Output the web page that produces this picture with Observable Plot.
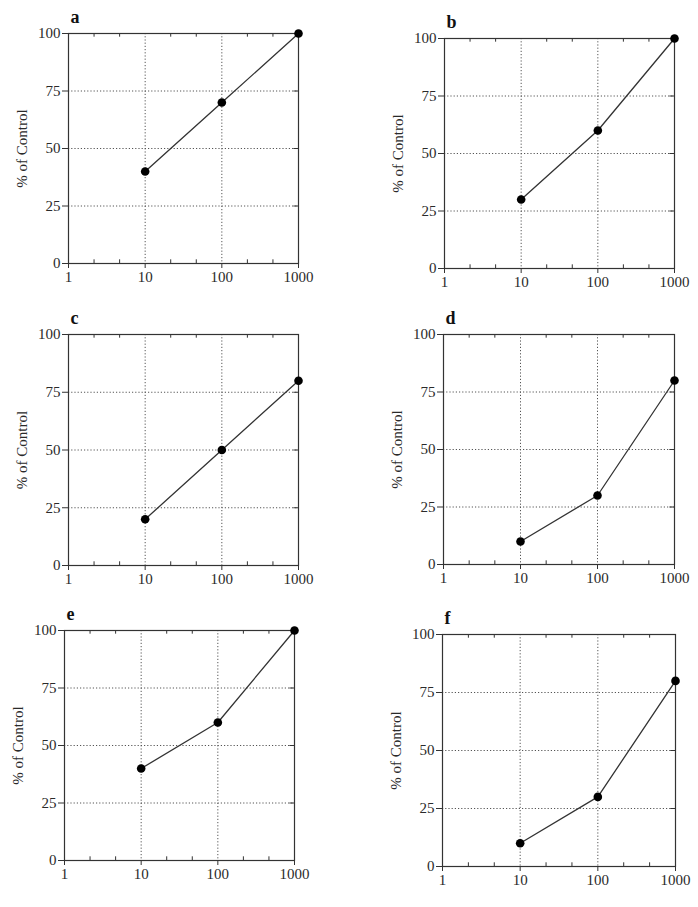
<!DOCTYPE html>
<html>
<head>
<meta charset="utf-8">
<script src="https://cdn.jsdelivr.net/npm/d3@7"></script>
<script src="https://cdn.jsdelivr.net/npm/@observablehq/plot@0.6"></script>
<style>
  html, body { margin: 0; padding: 0; background: #fff; }
  #wrap { position: relative; width: 698px; height: 907px; overflow: hidden; }
  #wrap svg { position: absolute; }
  #wrap svg text { font-family: "Liberation Serif", "Times New Roman", serif !important; }
</style>
</head>
<body>
<div id="wrap"></div>
<script>
// ---- data ----
const concentrations = [10, 100, 1000];
const panelLetters = ["a", "b", "c", "d", "e", "f"];
const valuesA = [40, 70, 100];
const valuesB = [30, 60, 100];
const valuesC = [20, 50, 80];
const valuesD = [10, 30, 80];
const valuesE = [40, 60, 100];
const valuesF = [10, 30, 80];
const seriesValues = [valuesA, valuesB, valuesC, valuesD, valuesE, valuesF];
const xTicks = [1, 10, 100, 1000];
const xTickLabels = ["1", "10", "100", "1000"];
const xMinorTicks = [2.154, 4.642, 21.54, 46.42, 215.4, 464.2];
const yTicks = [0, 25, 50, 75, 100];
const yGrid = [25, 50, 75];
const xGrid = [10, 100];
const yLabel = "% of Control";

// ---- layout (frame boxes in page pixels) ----
const frames = [
  {x0: 68, x1: 298, y0: 33, y1: 263},
  {x0: 444, x1: 674, y0: 38, y1: 268},
  {x0: 68, x1: 298, y0: 334, y1: 565},
  {x0: 443, x1: 674, y0: 334, y1: 564},
  {x0: 64, x1: 294, y0: 630, y1: 860},
  {x0: 442, x1: 675, y0: 634, y1: 866}
];

const wrap = document.getElementById("wrap");
const ML = 70, MR = 40, MT = 40, MB = 40;
const ink = "#2a2a2a";
const serif = "Liberation Serif";

frames.forEach((f, i) => {
  const data = concentrations.map((c, j) => ({x: c, y: seriesValues[i][j]}));
  const w = (f.x1 - f.x0) + ML + MR;
  const h = (f.y1 - f.y0) + MT + MB;
  const svg = Plot.plot({
    width: w,
    height: h,
    marginLeft: ML, marginRight: MR, marginTop: MT, marginBottom: MB,
    style: {"font-family": serif, "font-size": "15px", "color": ink, "background": "transparent"},
    x: {type: "log", domain: [1, 1000]},
    y: {domain: [0, 100]},
    marks: [
      Plot.gridX(xGrid, {stroke: "#555", strokeOpacity: 1, strokeDasharray: "1.2,2", strokeWidth: 1}),
      Plot.gridY(yGrid, {stroke: "#555", strokeOpacity: 1, strokeDasharray: "1.2,2", strokeWidth: 1}),
      Plot.ruleX(xMinorTicks, {x: d => d, y1: 0, y2: 1.6, stroke: "#333", strokeWidth: 1}),
      Plot.ruleX(xMinorTicks, {x: d => d, y1: 98.4, y2: 100, stroke: "#333", strokeWidth: 1}),
      Plot.ruleY(yGrid, {y: d => d, x1: 870, x2: 1000, stroke: "#333", strokeWidth: 1}),
      Plot.frame({stroke: "#333", strokeWidth: 1.2}),
      Plot.axisX({ticks: xTicks, tickFormat: (d) => xTickLabels[xTicks.indexOf(d)], tickSize: 5, tickPadding: 3, label: null, stroke: "#333", fontSize: 15, fill: ink}),
      Plot.axisY({ticks: yTicks, tickSize: 6, tickPadding: 2, label: null, stroke: "#333", fontSize: 15, fill: ink}),
      Plot.text([yLabel], {text: d => d, frameAnchor: "left", dx: -46, rotate: -90, textAnchor: "middle", lineAnchor: "middle", fontSize: 15, fill: ink}),
      Plot.text([panelLetters[i]], {text: d => d, frameAnchor: "top-left", dx: 2, dy: -16, textAnchor: "start", lineAnchor: "middle", fontSize: 18, fontWeight: "bold", fill: "#111"}),
      Plot.line(data, {x: "x", y: "y", stroke: "#333", strokeWidth: 1.3}),
      Plot.dot(data, {x: "x", y: "y", r: 4.3, fill: "#000", stroke: "none"})
    ]
  });
  svg.style.left = (f.x0 - ML) + "px";
  svg.style.top = (f.y0 - MT) + "px";
  wrap.appendChild(svg);
});
</script>
</body>
</html>
